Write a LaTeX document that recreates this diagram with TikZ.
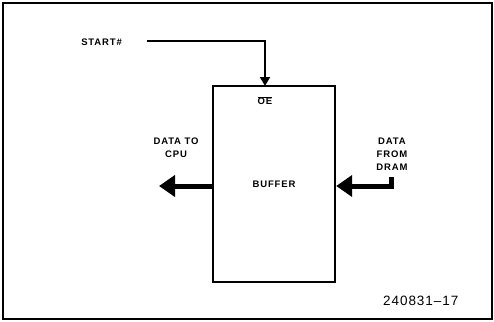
\documentclass[tikz,border=0pt]{standalone}
\usepackage{fontspec}
\setmainfont{Liberation Sans}
\usetikzlibrary{arrows.meta}
\tikzset{
  lbl/.style={font=\fontsize{9.5}{12}\selectfont\bfseries\addfontfeature{LetterSpace=9}, inner sep=0pt, align=center},
  bus/.style={line width=5pt, -{Triangle[width=21pt,length=16pt]}},
  sig/.style={line width=1.8pt, -{Triangle[width=10pt,length=9pt]}},
}
\begin{document}
\begin{tikzpicture}[x=1pt,y=-1pt]
\useasboundingbox (0,0) rectangle (494,321);
\draw[line width=1.3pt] (3,3) rectangle (492,319);
\node[draw, line width=2.4pt, minimum width=122pt, minimum height=196pt, inner sep=0pt] (buf) at (274,184) {};
\node[lbl] at (buf.center) {BUFFER};
\node[lbl, anchor=north] (oe) at (265,96) {$\overline{\mbox{OE}}$};
\node[lbl, anchor=east] (start) at (122,42) {START\#};
\coordinate (oein) at (265,86);
\draw[sig] (start.east) ++(25,-1) -| (oein);
\node[lbl] (tocpu) at (176,148) {DATA TO\\[1pt]CPU};
\coordinate (cpuend) at (159,186);
\draw[bus] (buf.west |- cpuend) -- (cpuend);
\node[lbl] (fromdram) at (392,154) {DATA\\[1pt]FROM\\[1pt]DRAM};
\coordinate (dtop) at (391,177);
\draw[bus] (dtop) |- (buf.east |- cpuend);
\node[font=\fontsize{13.5}{15}\selectfont\addfontfeature{LetterSpace=7}, anchor=south west, inner sep=0pt] (fig) at (383,306) {240831–17};
\end{tikzpicture}
\end{document}
